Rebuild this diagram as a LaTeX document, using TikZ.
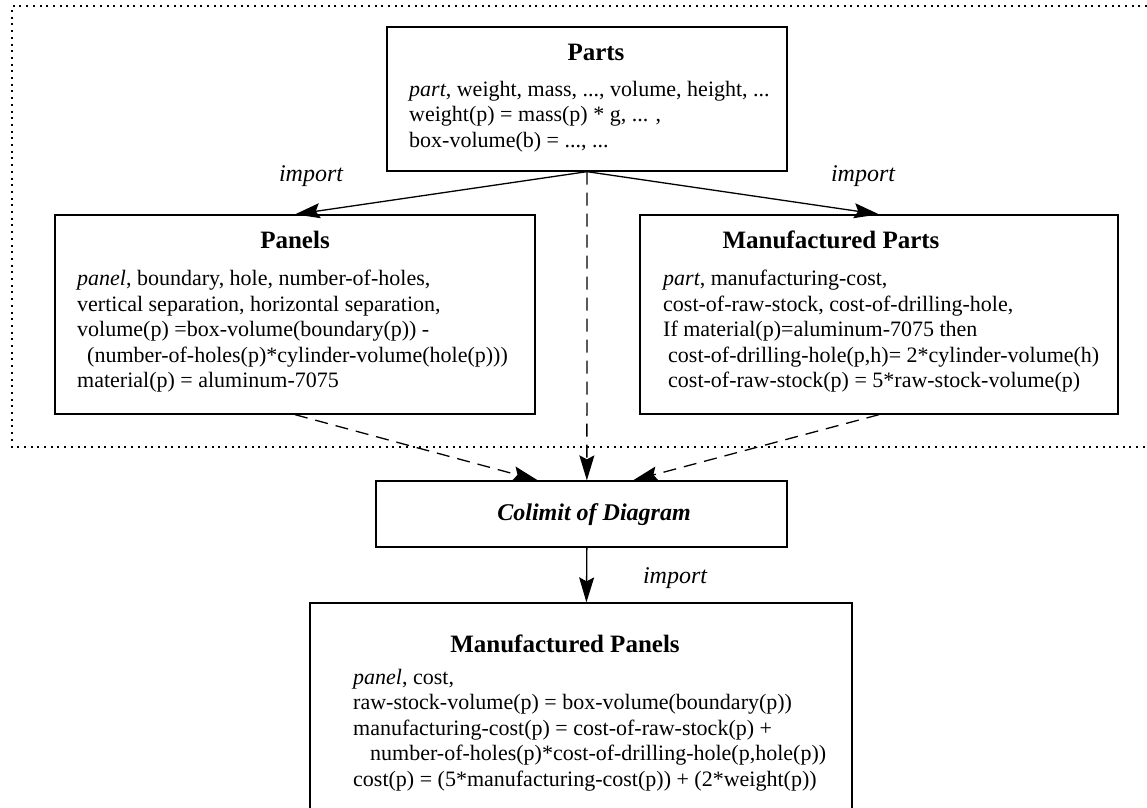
\documentclass[tikz,border=0pt]{standalone}
\usepackage{fontspec}
\setmainfont{Liberation Serif}
\usetikzlibrary{arrows.meta,calc}
\begin{document}
\begin{tikzpicture}[x=1pt,y=1pt,
  box/.style={draw, line width=1.3pt, inner sep=0pt, rectangle},
  title/.style={font=\fontsize{25}{28}\selectfont\bfseries, inner sep=0pt, anchor=base},
  body/.style={font=\fontsize{22}{25.5}\selectfont, align=left, inner sep=0pt, anchor=north west},
  lbl/.style={font=\fontsize{24}{28}\selectfont\itshape, inner sep=0pt},
  conn/.style={line width=1.3pt, -{Stealth[length=25pt,width=15pt,inset=4pt]}},
  dconn/.style={conn, dash pattern=on 13pt off 8pt},
  frame/.style={line width=2pt, dash pattern=on 2pt off 4.7pt}
]
\useasboundingbox (0,0) rectangle (1147,-807);

% dotted frame
\draw[frame] (1147,-6) -- (12,-6) -- (12,-447) -- (1147,-447);

% boxes
\node[box, minimum width=400, minimum height=144] (parts) at (587,-99) {};
\node[box, minimum width=480, minimum height=199] (panels) at (295,-314.5) {};
\node[box, minimum width=478, minimum height=199] (mparts) at (879,-314.5) {};
\node[box, minimum width=411, minimum height=66] (colimit) at (581.5,-514) {};
\node[box, minimum width=542, minimum height=217] (mpanels) at (581,-711.5) {};

% titles
\node[title] (tparts) at (596,-60) {Parts};
\node[title] (tpanels) at (295,-248) {Panels};
\node[title] (tmparts) at (831,-248) {Manufactured Parts};
\node[font=\fontsize{24}{28}\selectfont\bfseries\itshape, inner sep=0pt] (tcolimit) at (594,-515) {Colimit of Diagram};
\node[title] (tmpanels) at (565,-652) {Manufactured Panels};

% bodies
\node[body] (bparts) at (409,-81) {\textit{part}, weight, mass, ..., volume, height, ...\\
weight(p) = mass(p) * g, ... ,\\
box-volume(b) = ..., ...};

\node[body] (bpanels) at (77,-270) {\textit{panel}, boundary, hole, number-of-holes,\\
vertical separation, horizontal separation,\\
volume(p) =box-volume(boundary(p)) -\\
\hspace*{10pt}(number-of-holes(p)*cylinder-volume(hole(p)))\\
material(p) = aluminum-7075};

\node[body] (bmparts) at (663,-270) {\textit{part}, manufacturing-cost,\\
cost-of-raw-stock, cost-of-drilling-hole,\\
If material(p)=aluminum-7075 then\\
\hspace*{5pt}cost-of-drilling-hole(p,h)= 2*cylinder-volume(h)\\
\hspace*{5pt}cost-of-raw-stock(p) = 5*raw-stock-volume(p)};

\node[body] (bmpanels) at (353,-669) {\textit{panel}, cost,\\
raw-stock-volume(p) = box-volume(boundary(p))\\
manufacturing-cost(p) = cost-of-raw-stock(p) +\\
\hspace*{17pt}number-of-holes(p)*cost-of-drilling-hole(p,hole(p))\\
cost(p) = (5*manufacturing-cost(p)) + (2*weight(p))};

% connectors
\draw[conn] (parts.south) -- (panels.north);
\draw[conn] (parts.south) -- (mparts.north);
\draw[dconn] (parts.south) -- ($(colimit.north west)!0.513!(colimit.north east)$);
\draw[dconn] (panels.south) -- ($(colimit.north west)!0.394!(colimit.north east)$);
\draw[dconn] (mparts.south) -- ($(colimit.north west)!0.625!(colimit.north east)$);
\draw[conn] ($(colimit.south west)!0.513!(colimit.south east)$) -- ($(mpanels.north west)!0.510!(mpanels.north east)$);

% labels
\node[lbl] (l1) at (311,-176) {import};
\node[lbl] (l2) at (863,-176) {import};
\node[lbl] (l3) at (675,-578) {import};
\end{tikzpicture}
\end{document}
